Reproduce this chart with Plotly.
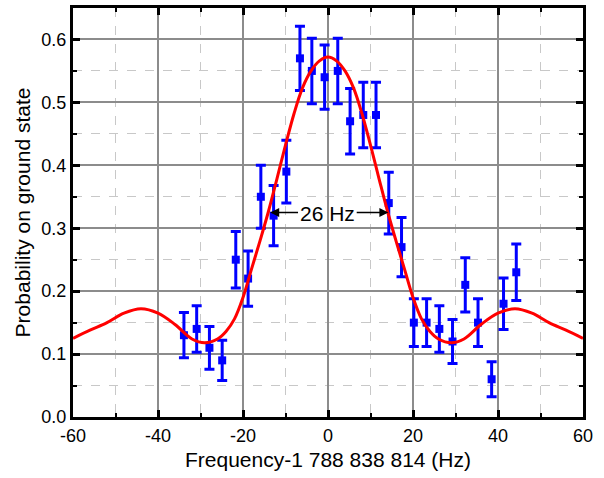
import plotly.graph_objects as go

# Measured data
freq = [-33.9, -30.9, -27.9, -24.9, -21.7, -18.8, -15.8, -12.8, -9.8, -6.6,
        -3.8, -0.8, 2.3, 5.2, 8.3, 11.3, 14.3, 17.3, 20.2, 23.2,
        26.2, 29.3, 32.3, 35.3, 38.5, 41.3, 44.3]
prob = [0.13, 0.14, 0.11, 0.09, 0.25, 0.22, 0.35, 0.32, 0.39, 0.57,
        0.55, 0.54, 0.55, 0.47, 0.48, 0.48, 0.34, 0.27, 0.15, 0.15,
        0.14, 0.12, 0.21, 0.15, 0.06, 0.18, 0.23]
err = [0.036, 0.037, 0.034, 0.032, 0.045, 0.044, 0.050, 0.048, 0.050, 0.051,
       0.052, 0.051, 0.052, 0.052, 0.052, 0.052, 0.049, 0.047, 0.038, 0.038,
       0.037, 0.035, 0.043, 0.038, 0.028, 0.041, 0.045]

# Fit curve
fit_f = [-60, -56, -52, -48, -44, -40, -36, -32, -29, -26, -24, -22, -20, -18,
         -16, -14, -12, -10, -8, -6, -4, -2, 0, 2, 4, 6, 8, 10, 12, 14, 16, 18,
         20, 22, 24, 26, 29, 32, 36, 40, 44, 48, 52, 56, 60]
fit_p = [0.125, 0.138, 0.150, 0.165, 0.172, 0.165, 0.147, 0.124, 0.118, 0.124,
         0.136, 0.156, 0.190, 0.235, 0.280, 0.327, 0.379, 0.432, 0.482, 0.523,
         0.550, 0.566, 0.572, 0.566, 0.550, 0.523, 0.482, 0.432, 0.379, 0.327,
         0.280, 0.235, 0.190, 0.156, 0.136, 0.124, 0.118, 0.124, 0.147, 0.165,
         0.172, 0.165, 0.150, 0.138, 0.125]

x_ticks = [-60, -40, -20, 0, 20, 40, 60]
y_ticks = [0.0, 0.1, 0.2, 0.3, 0.4, 0.5, 0.6]

FONT = "Liberation Sans, Arial, sans-serif"

fig = go.Figure()
fig.add_trace(go.Scatter(
    x=freq, y=prob, mode="markers",
    marker=dict(symbol="square", size=8, color="#0000FF"),
    error_y=dict(type="data", array=err, visible=True, color="#0000FF",
                 thickness=3, width=5),
    showlegend=False))
fig.add_trace(go.Scatter(
    x=fit_f, y=fit_p, mode="lines", line=dict(color="#FF0000", width=3, shape="spline"),
    showlegend=False))

# 26 Hz annotation
fig.add_annotation(x=-13.6, y=0.325, ax=-6.7, ay=0.325, xref="x", yref="y",
                   axref="x", ayref="y", text="", showarrow=True,
                   arrowhead=2, arrowsize=1.2, arrowwidth=1.5, arrowcolor="black")
fig.add_annotation(x=14.2, y=0.325, ax=6.4, ay=0.325, xref="x", yref="y",
                   axref="x", ayref="y", text="", showarrow=True,
                   arrowhead=2, arrowsize=1.2, arrowwidth=1.5, arrowcolor="black")
fig.add_annotation(x=-0.2, y=0.324, text="26 Hz", showarrow=False,
                   font=dict(family=FONT, size=21, color="black"))

fig.update_layout(
    width=604, height=478,
    margin=dict(l=73, r=21, t=5, b=61),
    plot_bgcolor="white", paper_bgcolor="white",
    font=dict(family=FONT, size=18, color="black"),
)
fig.update_xaxes(
    range=[-60, 60], tickvals=x_ticks, ticktext=[str(v) for v in x_ticks],
    showline=True, linewidth=3, linecolor="black", mirror="ticks",
    ticks="inside", ticklen=7, tickwidth=3, tickcolor="black",
    showgrid=True, gridcolor="#8c8c8c", gridwidth=2, zeroline=False,
    minor=dict(dtick=10, tick0=0, ticks="inside", ticklen=4, tickwidth=2,
               tickcolor="black", showgrid=True, gridcolor="#c8c8c8",
               griddash="dash", gridwidth=1),
    tickfont=dict(size=18),
    title=dict(text="Frequency-1 788 838 814 (Hz)", font=dict(size=21), standoff=8),
)
fig.update_yaxes(
    range=[0, 0.65], tickvals=y_ticks, ticktext=[f"{v:.1f}" for v in y_ticks],
    showline=True, linewidth=3, linecolor="black", mirror="ticks",
    ticks="inside", ticklen=7, tickwidth=3, tickcolor="black",
    showgrid=True, gridcolor="#8c8c8c", gridwidth=2, zeroline=False,
    minor=dict(dtick=0.05, tick0=0, ticks="inside", ticklen=4, tickwidth=2,
               tickcolor="black", showgrid=True, gridcolor="#c8c8c8",
               griddash="dash", gridwidth=1),
    tickfont=dict(size=18),
    title=dict(text="Probability on ground state", font=dict(size=21), standoff=6),
)

fig.write_html("out.html", config={"displayModeBar": False})

# remove default page margin so the figure sits at the window origin
with open("out.html", "r", encoding="utf-8") as fh:
    html = fh.read()
html = html.replace("<head>", "<head><style>html,body{margin:0;padding:0;overflow:hidden;}</style>", 1)
with open("out.html", "w", encoding="utf-8") as fh:
    fh.write(html)
